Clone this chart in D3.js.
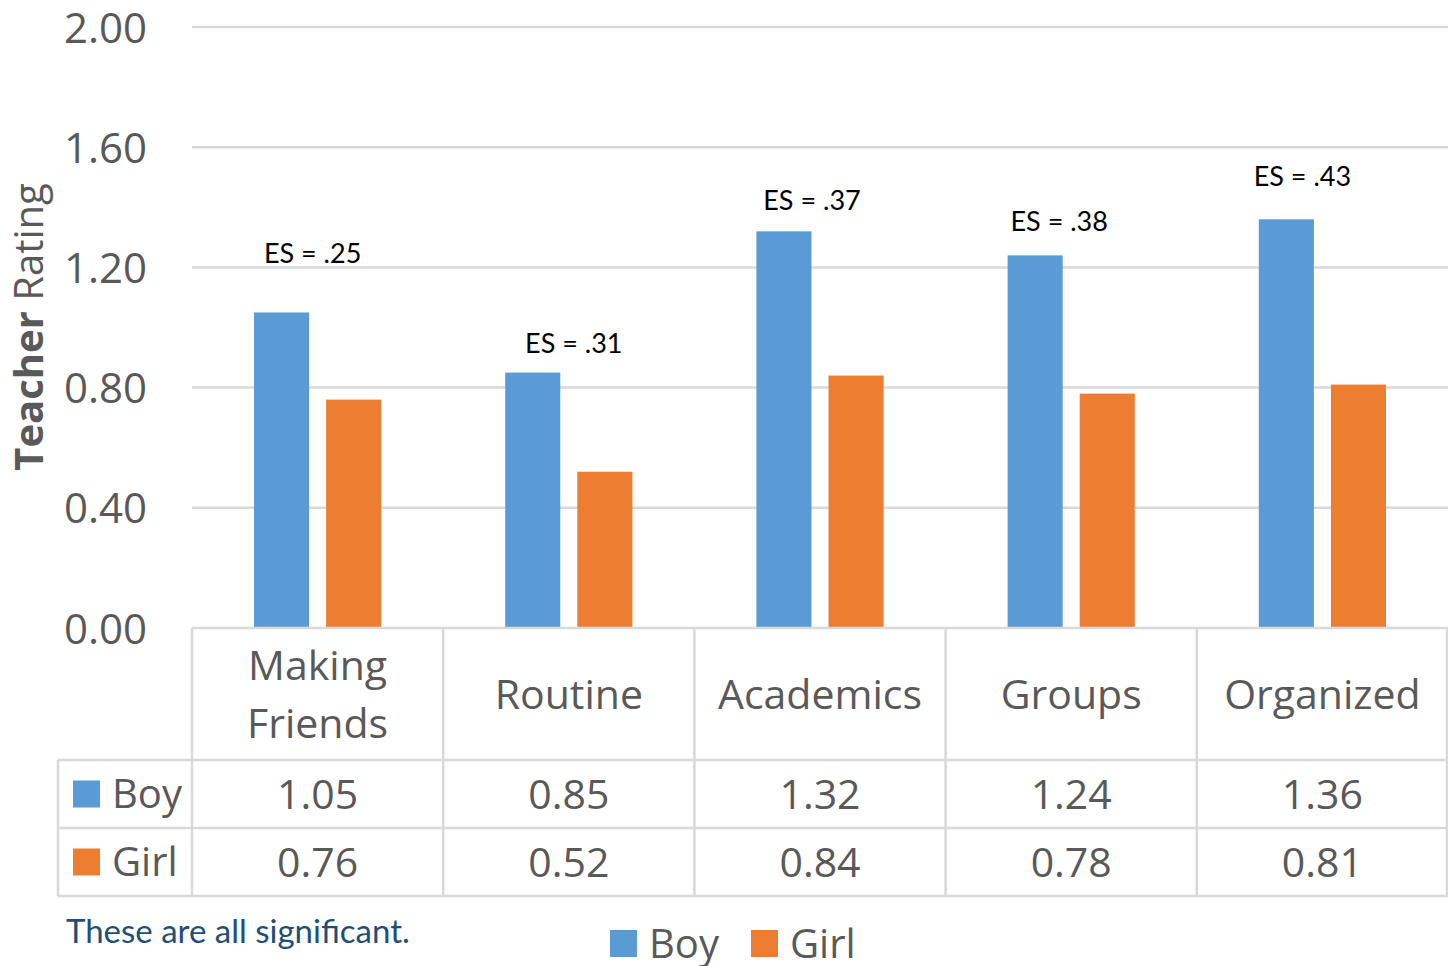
<!DOCTYPE html>
<html>
<head>
<meta charset="utf-8">
<script src="https://cdn.jsdelivr.net/npm/d3@7"></script>
<style>
  body { margin: 0; background: #fff; }
  svg { display: block; }
</style>
</head>
<body>
<svg width="1448" height="966"></svg>
<script>
// data
var categories = ["Making Friends", "Routine", "Academics", "Groups", "Organized"];
var series = ["Boy", "Girl"];
var boyValues = [1.05, 0.85, 1.32, 1.24, 1.36];
var girlValues = [0.76, 0.52, 0.84, 0.78, 0.81];
var esLabels = ["ES = .25", "ES = .31", "ES = .37", "ES = .38", "ES = .43"];
// where the ES text boxes sit (in rating units) and how far they are nudged from the category centre
var esLevel = [1.245, 0.945, 1.424, 1.354, 1.501];
var esShift = [-5, 5, -8, -12, -20];
var yTicks = [0, 0.4, 0.8, 1.2, 1.6, 2.0];
var colors = { Boy: "#5b9bd5", Girl: "#ed7d31" };

var svg = d3.select("svg");
var grid = "#d9d9d9",
    textCol = "#595959",
    mainFont = "'Open Sans', sans-serif",
    labelFont = "Lato, 'Open Sans', sans-serif";

var plotLeft = 192, plotRight = 1448, plotTop = 27, plotBase = 628;
var rowH = [760, 828, 896];   // bottoms of header / boy / girl rows
var legendLeft = 58;

var y = d3.scaleLinear().domain([0, 2]).range([plotBase, plotTop]);
var x0 = d3.scaleBand().domain(categories).range([plotLeft, plotRight]).padding(0);
var bw = x0.bandwidth();
var x1 = d3.scaleBand().domain(series).range([62, bw - 62]).paddingInner(0.236).paddingOuter(0);

// gridlines
svg.append("g").selectAll("line")
  .data(yTicks.filter(function (d) { return d > 0; }))
  .enter().append("line")
  .attr("x1", plotLeft).attr("x2", plotRight)
  .attr("y1", function (d) { return y(d); })
  .attr("y2", function (d) { return y(d); })
  .attr("stroke", grid).attr("stroke-width", 2.5);

// y axis labels
var yAxis = svg.append("g")
  .attr("transform", "translate(147,0)")
  .call(d3.axisLeft(y).tickValues(yTicks).tickFormat(d3.format(".2f")).tickSize(0).tickPadding(0));
yAxis.select(".domain").remove();
yAxis.selectAll("text")
  .attr("font-family", mainFont)
  .attr("font-size", 42)
  .attr("fill", textCol)
  .attr("dy", "0.36em");

// y title
var yTitle = svg.append("text")
  .attr("transform", "translate(43,327) rotate(-90)")
  .attr("text-anchor", "middle")
  .attr("font-family", mainFont)
  .attr("font-size", 40)
  .attr("fill", textCol);
yTitle.append("tspan").attr("font-weight", "bold").text("Teacher");
yTitle.append("tspan").text(" Rating");

// bars
var rows = categories.map(function (c, i) {
  return { cat: c, vals: [{ s: "Boy", v: boyValues[i] }, { s: "Girl", v: girlValues[i] }] };
});
var groups = svg.append("g").selectAll("g")
  .data(rows).enter().append("g")
  .attr("transform", function (d) { return "translate(" + x0(d.cat) + ",0)"; });
groups.selectAll("rect")
  .data(function (d) { return d.vals; })
  .enter().append("rect")
  .attr("x", function (d) { return x1(d.s); })
  .attr("width", x1.bandwidth())
  .attr("y", function (d) { return y(d.v); })
  .attr("height", function (d) { return plotBase - y(d.v); })
  .attr("fill", function (d) { return colors[d.s]; });

// ES labels
svg.append("g").selectAll("text")
  .data(esLabels).enter().append("text")
  .attr("x", function (d, i) { return x0(categories[i]) + bw / 2 + esShift[i]; })
  .attr("y", function (d, i) { return y(esLevel[i]); })
  .attr("dy", "0.35em")
  .attr("text-anchor", "middle")
  .attr("font-family", labelFont)
  .attr("font-size", 27)
  .attr("fill", "#000")
  .text(function (d) { return d; });

// data table
var table = svg.append("g").attr("stroke", grid).attr("stroke-width", 2.5);
table.append("line").attr("x1", plotLeft).attr("x2", plotRight).attr("y1", plotBase).attr("y2", plotBase);
rowH.forEach(function (h) {
  table.append("line").attr("x1", legendLeft).attr("x2", plotRight).attr("y1", h).attr("y2", h);
});
table.append("line").attr("x1", legendLeft).attr("x2", legendLeft).attr("y1", rowH[0]).attr("y2", rowH[2]);
categories.forEach(function (c) {
  table.append("line").attr("x1", x0(c)).attr("x2", x0(c)).attr("y1", plotBase).attr("y2", rowH[2]);
});
table.append("line").attr("x1", plotRight - 1).attr("x2", plotRight - 1).attr("y1", plotBase).attr("y2", rowH[2]);

// category names
var catText = svg.append("g").selectAll("text")
  .data(categories).enter().append("text")
  .attr("text-anchor", "middle")
  .attr("font-family", mainFont)
  .attr("font-size", 41)
  .attr("fill", textCol)
  .attr("x", function (d) { return x0(d) + bw / 2; });
catText.each(function (d) {
  var words = d.split(" ");
  var t = d3.select(this);
  var mid = (plotBase + rowH[0]) / 2;
  if (words.length === 1) {
    t.append("tspan").attr("x", x0(d) + bw / 2).attr("y", mid).attr("dy", "0.36em").text(d);
  } else {
    words.forEach(function (w, k) {
      t.append("tspan").attr("x", x0(d) + bw / 2)
        .attr("y", mid + (k - 0.5) * 58).attr("dy", "0.36em").text(w);
    });
  }
});

// value rows
[boyValues, girlValues].forEach(function (vals, r) {
  var top0 = r === 0 ? rowH[0] : rowH[1];
  var mid = (top0 + rowH[r + 1]) / 2;
  svg.append("g").selectAll("text")
    .data(vals).enter().append("text")
    .attr("x", function (d, i) { return x0(categories[i]) + bw / 2; })
    .attr("y", mid).attr("dy", "0.36em")
    .attr("text-anchor", "middle")
    .attr("font-family", mainFont)
    .attr("font-size", 41)
    .attr("fill", textCol)
    .text(d3.format(".2f"));
  svg.append("rect")
    .attr("x", 73).attr("y", mid - 13.5)
    .attr("width", 27).attr("height", 27)
    .attr("fill", colors[series[r]]);
  svg.append("text")
    .attr("x", 112).attr("y", mid).attr("dy", "0.36em")
    .attr("font-family", mainFont)
    .attr("font-size", 40)
    .attr("fill", textCol)
    .text(series[r]);
});

// footnote
svg.append("text")
  .attr("x", 66).attr("y", 943)
  .attr("font-family", labelFont)
  .attr("font-size", 33)
  .attr("fill", "#1f4e79")
  .text("These are all significant.");

// bottom legend
var legendX = [610, 751];
var legend = svg.append("g").selectAll("g")
  .data(series).enter().append("g")
  .attr("transform", function (d, i) { return "translate(" + legendX[i] + ",930)"; });
legend.append("rect").attr("width", 27).attr("height", 27)
  .attr("fill", function (d) { return colors[d]; });
legend.append("text")
  .attr("x", 39).attr("y", 13.5).attr("dy", "0.36em")
  .attr("font-family", mainFont)
  .attr("font-size", 40)
  .attr("fill", textCol)
  .text(function (d) { return d; });
</script>
</body>
</html>
